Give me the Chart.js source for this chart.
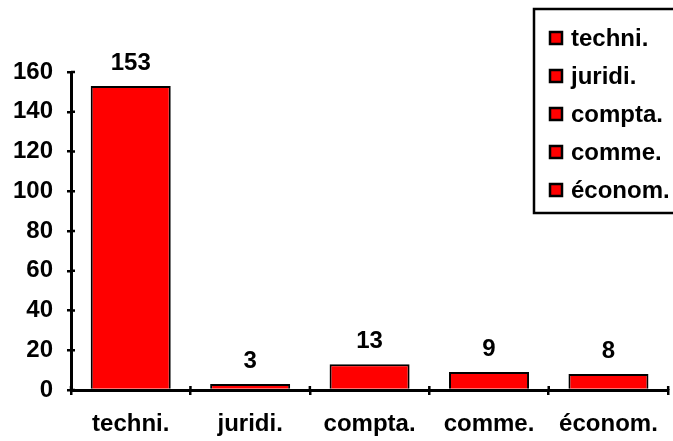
<!DOCTYPE html>
<html>
<head>
<meta charset="utf-8">
<script src="https://cdn.jsdelivr.net/npm/chart.js@4.4.1/dist/chart.umd.min.js"></script>
<style>
  html, body { margin: 0; padding: 0; background: #fff; }
  #wrap { width: 673px; height: 441px; }
</style>
</head>
<body>
<div id="wrap"><canvas id="myChart"></canvas></div>
<script>
const categories = ["techni.", "juridi.", "compta.", "comme.", "économ."];
const counts = [153, 3, 13, 9, 8];
const yMin = 0;
const yMax = 160;
const yStep = 20;

const FONT = { family: "Liberation Sans", weight: "bold", size: 24 };
const fontStr = "bold 24px 'Liberation Sans'";

// little tick marks on the inner side of both axes
const innerTicks = {
  id: "innerTicks",
  afterDraw(chart) {
    const ctx = chart.ctx;
    const area = chart.chartArea;
    const xs = chart.scales.x;
    const ys = chart.scales.y;
    ctx.save();
    ctx.strokeStyle = "#000";
    ctx.lineWidth = 2.5;
    ctx.beginPath();
    for (let v = yMin; v <= yMax; v += yStep) {
      const y = ys.getPixelForValue(v);
      ctx.moveTo(area.left, y);
      ctx.lineTo(area.left + 4, y);
    }
    for (let i = 0; i <= categories.length; i++) {
      const x = xs.getPixelForValue(i - 0.5);
      ctx.moveTo(x, area.bottom);
      ctx.lineTo(x, area.bottom - 4);
    }
    ctx.stroke();
    ctx.restore();
  },
};

// value labels over the bars
const valueLabels = {
  id: "valueLabels",
  afterDatasetsDraw(chart) {
    const ctx = chart.ctx;
    const meta = chart.getDatasetMeta(0);
    ctx.save();
    ctx.font = fontStr;
    ctx.fillStyle = "#000";
    ctx.textAlign = "center";
    ctx.textBaseline = "middle";
    meta.data.forEach((bar, i) => {
      ctx.fillText(String(counts[i]), bar.x, bar.y - 23);
    });
    ctx.restore();
  },
};

// boxed legend in the top right corner, one entry per category
const boxLegend = {
  id: "boxLegend",
  afterDraw(chart) {
    const ctx = chart.ctx;
    ctx.save();
    ctx.strokeStyle = "#000";
    ctx.lineWidth = 2.5;
    ctx.fillStyle = "#fff";
    ctx.fillRect(534, 9, 145, 204);
    ctx.strokeRect(534, 9, 145, 204);
    ctx.font = fontStr;
    ctx.textBaseline = "middle";
    categories.forEach((c, i) => {
      const y = 38 + i * 38;
      ctx.fillStyle = "#ff0000";
      ctx.fillRect(550, y - 6, 12, 12);
      ctx.strokeRect(550, y - 6, 12, 12);
      ctx.fillStyle = "#000";
      ctx.fillText(c, 571, y + 1);
    });
    ctx.restore();
  },
};

const ctx = document.getElementById("myChart").getContext("2d");
new Chart(ctx, {
  type: "bar",
  data: {
    labels: categories,
    datasets: [
      {
        label: "count",
        data: counts,
        backgroundColor: "#ff0000",
        borderColor: "#000",
        borderWidth: 2,
        borderSkipped: "start",
        barPercentage: 0.67,
        categoryPercentage: 1,
      },
    ],
  },
  options: {
    responsive: true,
    maintainAspectRatio: false,
    animation: false,
    layout: { padding: { top: 72, right: 2, left: 0, bottom: 0 } },
    plugins: {
      legend: { display: false },
      tooltip: { enabled: false },
    },
    scales: {
      x: {
        grid: {
          offset: true,
          drawOnChartArea: false,
          color: "#000",
          lineWidth: 2.5,
          tickLength: 5,
        },
        border: { color: "#000", width: 3, z: 1 },
        ticks: { color: "#000", font: FONT, padding: 15, maxRotation: 0 },
        afterFit(s) { s.height = 51; },
      },
      y: {
        min: yMin,
        max: yMax,
        grid: {
          drawOnChartArea: false,
          color: "#000",
          lineWidth: 2.5,
          tickLength: 4,
        },
        border: { color: "#000", width: 3 },
        ticks: { stepSize: yStep, color: "#000", font: FONT, padding: 14 },
        afterFit(s) { s.width = 71; },
      },
    },
  },
  plugins: [innerTicks, valueLabels, boxLegend],
});
</script>
</body>
</html>
